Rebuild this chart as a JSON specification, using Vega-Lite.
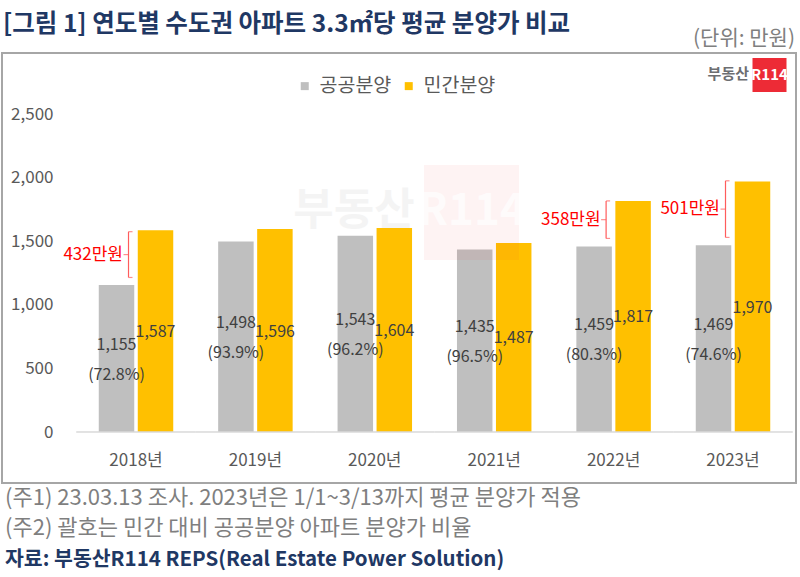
{
  "$schema": "https://vega.github.io/schema/vega-lite/v6.json",
  "width": 794,
  "height": 430,
  "autosize": {"type": "none"},
  "padding": {"left": 2, "top": 53, "right": 4, "bottom": 94},
  "background": "white",
  "config": {
    "view": {"stroke": "#a6a6a6", "strokeWidth": 2},
    "font": "Noto Sans CJK KR",
    "text": {"font": "Noto Sans CJK KR"}
  },
  "title": {
    "text": "[그림 1] 연도별 수도권 아파트 3.3㎡당 평균 분양가 비교",
    "anchor": "start",
    "frame": "group",
    "dx": 1,
    "offset": -9,
    "fontSize": 24.5,
    "fontWeight": "bold",
    "color": "#1f3864",
    "font": "Noto Sans CJK KR"
  },
  "datasets": {
    "bars": [
      {"year": "2018년", "series": "공공분양", "value": 1155, "pct": "(72.8%)"},
      {"year": "2018년", "series": "민간분양", "value": 1587, "pct": ""},
      {"year": "2019년", "series": "공공분양", "value": 1498, "pct": "(93.9%)"},
      {"year": "2019년", "series": "민간분양", "value": 1596, "pct": ""},
      {"year": "2020년", "series": "공공분양", "value": 1543, "pct": "(96.2%)"},
      {"year": "2020년", "series": "민간분양", "value": 1604, "pct": ""},
      {"year": "2021년", "series": "공공분양", "value": 1435, "pct": "(96.5%)"},
      {"year": "2021년", "series": "민간분양", "value": 1487, "pct": ""},
      {"year": "2022년", "series": "공공분양", "value": 1459, "pct": "(80.3%)"},
      {"year": "2022년", "series": "민간분양", "value": 1817, "pct": ""},
      {"year": "2023년", "series": "공공분양", "value": 1469, "pct": "(74.6%)"},
      {"year": "2023년", "series": "민간분양", "value": 1970, "pct": ""}
    ],
    "brackets": [
      {"year": "2018년", "top": 1575, "bottom": 1215, "label": "432만원"},
      {"year": "2022년", "top": 1817, "bottom": 1522, "label": "358만원"},
      {"year": "2023년", "top": 1975, "bottom": 1530, "label": "501만원"}
    ]
  },
  "encoding": {
    "x": {
      "field": "year",
      "type": "nominal",
      "sort": null,
      "scale": {"paddingInner": 0, "paddingOuter": 0.325, "align": 0.9575},
      "axis": {
        "orient": "bottom",
        "offset": -51,
        "title": null,
        "domain": false,
        "ticks": false,
        "tickSize": 0,
        "labelPadding": 28,
        "labelBaseline": "middle",
        "labelAngle": 0,
        "labelFontSize": 17,
        "labelColor": "#595959",
        "labelFont": "Noto Sans CJK KR"
      }
    }
  },
  "layer": [
    {
      "data": {"name": "bars"},
      "mark": {"type": "bar"},
      "encoding": {
        "xOffset": {
          "field": "series",
          "type": "nominal",
          "scale": {"domain": ["공공분양", "민간분양"], "paddingInner": 0.09, "paddingOuter": 0.576}
        },
        "y": {
          "field": "value",
          "type": "quantitative",
          "scale": {"domain": [-401, 2980], "nice": false, "zero": false},
          "axis": {
            "orient": "left",
            "offset": -51,
            "title": null,
            "values": [0, 500, 1000, 1500, 2000, 2500],
            "labelExpr": "format(datum.value, ',')",
            "domain": false,
            "ticks": false,
            "tickSize": 0,
            "grid": false,
            "labelPadding": 0,
            "labelFontSize": 17,
            "labelColor": "#595959",
            "labelFont": "Noto Sans CJK KR"
          }
        },
        "y2": {"datum": 0},
        "color": {
          "field": "series",
          "type": "nominal",
          "scale": {"domain": ["공공분양", "민간분양"], "range": ["#bfbfbf", "#ffc000"]},
          "legend": {
            "orient": "none",
            "legendX": 293,
            "legendY": 23,
            "direction": "horizontal",
            "title": null,
            "symbolType": "square",
            "symbolSize": 64,
            "symbolStrokeWidth": 0,
            "labelFontSize": 19.5,
            "labelColor": "#595959",
            "labelFont": "Noto Sans CJK KR",
            "labelOffset": 5,
            "columnPadding": 7,
            "padding": 0
          }
        }
      }
    },
    {
      "data": {"name": "bars"},
      "transform": [{"filter": "datum.series === '공공분양'"}],
      "mark": {"type": "rect", "fill": "transparent", "stroke": "#d9d9d9", "strokeWidth": 1},
      "encoding": {
        "y": {"datum": 0, "type": "quantitative"},
        "y2": {"datum": 0}
      }
    },
    {
      "data": {"name": "bars"},
      "transform": [
        {"filter": "datum.series === '공공분양'"},
        {"calculate": "datum.value / 2", "as": "mid"}
      ],
      "mark": {"type": "text", "dy": -14, "fontSize": 16, "color": "#404040", "align": "center", "baseline": "middle"},
      "encoding": {
        "xOffset": {"field": "series", "type": "nominal"},
        "y": {"field": "mid", "type": "quantitative"},
        "text": {"field": "value", "type": "quantitative", "format": ","}
      }
    },
    {
      "data": {"name": "bars"},
      "transform": [
        {"filter": "datum.series === '공공분양'"},
        {"calculate": "datum.value / 2", "as": "mid"}
      ],
      "mark": {"type": "text", "dy": 16, "fontSize": 16, "color": "#404040", "align": "center", "baseline": "middle"},
      "encoding": {
        "xOffset": {"field": "series", "type": "nominal"},
        "y": {"field": "mid", "type": "quantitative"},
        "text": {"field": "pct", "type": "nominal"}
      }
    },
    {
      "data": {"name": "bars"},
      "transform": [
        {"filter": "datum.series === '민간분양'"},
        {"calculate": "datum.value / 2", "as": "mid"}
      ],
      "mark": {"type": "text", "dy": 1, "fontSize": 16, "color": "#404040", "align": "center", "baseline": "middle"},
      "encoding": {
        "xOffset": {"field": "series", "type": "nominal"},
        "y": {"field": "mid", "type": "quantitative"},
        "text": {"field": "value", "type": "quantitative", "format": ","}
      }
    },
    {
      "data": {"name": "brackets"},
      "mark": {"type": "rule", "color": "#ff5c5c", "strokeWidth": 1.2, "xOffset": -7.5},
      "encoding": {
        "y": {"field": "bottom", "type": "quantitative"},
        "y2": {"field": "top"}
      }
    },
    {
      "data": {"name": "brackets"},
      "mark": {"type": "tick", "orient": "horizontal", "color": "#ff5c5c", "size": 4, "thickness": 1.2, "xOffset": -5.5},
      "encoding": {
        "y": {"field": "top", "type": "quantitative"}
      }
    },
    {
      "data": {"name": "brackets"},
      "mark": {"type": "tick", "orient": "horizontal", "color": "#ff5c5c", "size": 4, "thickness": 1.2, "xOffset": -5.5},
      "encoding": {
        "y": {"field": "bottom", "type": "quantitative"}
      }
    },
    {
      "data": {"name": "brackets"},
      "transform": [{"calculate": "(datum.top + datum.bottom) / 2", "as": "mid"}],
      "mark": {"type": "tick", "orient": "horizontal", "color": "#ff5c5c", "size": 5, "thickness": 1.2, "xOffset": -10},
      "encoding": {
        "y": {"field": "mid", "type": "quantitative"}
      }
    },
    {
      "data": {"name": "brackets"},
      "transform": [{"calculate": "(datum.top + datum.bottom) / 2", "as": "mid"}],
      "mark": {"type": "text", "color": "#ff0000", "fontSize": 17, "align": "right", "baseline": "middle", "dx": -13},
      "encoding": {
        "y": {"field": "mid", "type": "quantitative"},
        "text": {"field": "label", "type": "nominal"}
      }
    },
    {
      "data": {"values": [{"t": "watermark"}]},
      "mark": {"type": "point", "shape": "square", "filled": true, "color": "#e8302f", "opacity": 0.06, "size": 9025, "strokeWidth": 0},
      "encoding": {"x": {"value": 469.5}, "y": {"value": 159.5}}
    },
    {
      "data": {"values": [{"t": "부동산"}]},
      "mark": {"type": "text", "fontSize": 44, "fontWeight": "bold", "color": "#000000", "opacity": 0.04, "align": "center", "baseline": "middle"},
      "encoding": {"x": {"value": 352}, "y": {"value": 159}, "text": {"field": "t", "type": "nominal"}}
    },
    {
      "data": {"values": [{"t": "R114"}]},
      "mark": {"type": "text", "fontSize": 44, "fontWeight": "bold", "color": "#ffffff", "opacity": 0.7, "align": "center", "baseline": "middle"},
      "encoding": {"x": {"value": 470}, "y": {"value": 159}, "text": {"field": "t", "type": "nominal"}}
    },
    {
      "data": {"values": [{"t": "logo"}]},
      "mark": {"type": "point", "shape": "square", "filled": true, "color": "#ed2b36", "opacity": 1, "size": 1156, "strokeWidth": 0},
      "encoding": {"x": {"value": 767.5}, "y": {"value": 22}}
    },
    {
      "data": {"values": [{"t": "R114"}]},
      "mark": {"type": "text", "fontSize": 15, "fontWeight": "bold", "color": "#ffffff", "align": "center", "baseline": "middle"},
      "encoding": {"x": {"value": 767.5}, "y": {"value": 22}, "text": {"field": "t", "type": "nominal"}}
    },
    {
      "data": {"values": [{"t": "부동산"}]},
      "mark": {"type": "text", "fontSize": 15, "fontWeight": "bold", "color": "#6d6e71", "align": "right", "baseline": "middle"},
      "encoding": {"x": {"value": 747}, "y": {"value": 21}, "text": {"field": "t", "type": "nominal"}}
    },
    {
      "data": {"values": [{"t": "(단위: 만원)"}]},
      "mark": {"type": "text", "fontSize": 21, "color": "#7f7f7f", "align": "right", "baseline": "middle"},
      "encoding": {"x": {"value": 793}, "y": {"value": -14}, "text": {"field": "t", "type": "nominal"}}
    },
    {
      "data": {"values": [{"t": "(주1) 23.03.13 조사. 2023년은 1/1~3/13까지 평균 분양가 적용"}]},
      "mark": {"type": "text", "fontSize": 22, "color": "#7f7f7f", "align": "left", "baseline": "middle"},
      "encoding": {"x": {"value": 3}, "y": {"value": 445}, "text": {"field": "t", "type": "nominal"}}
    },
    {
      "data": {"values": [{"t": "(주2) 괄호는 민간 대비 공공분양 아파트 분양가 비율"}]},
      "mark": {"type": "text", "fontSize": 22, "color": "#7f7f7f", "align": "left", "baseline": "middle"},
      "encoding": {"x": {"value": 3}, "y": {"value": 475}, "text": {"field": "t", "type": "nominal"}}
    },
    {
      "data": {"values": [{"t": "자료: 부동산R114 REPS(Real Estate Power Solution)"}]},
      "mark": {"type": "text", "fontSize": 20.5, "fontWeight": "bold", "color": "#1f3864", "align": "left", "baseline": "middle"},
      "encoding": {"x": {"value": 3}, "y": {"value": 507}, "text": {"field": "t", "type": "nominal"}}
    }
  ]
}
